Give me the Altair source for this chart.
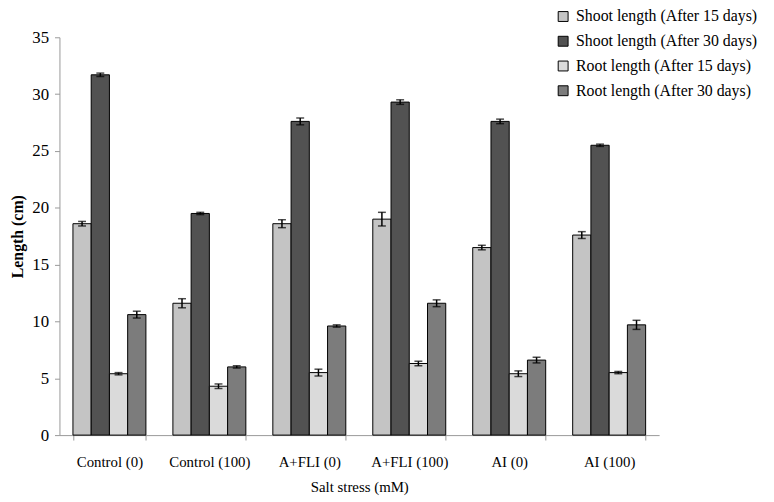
import altair as alt
import pandas as pd

groups = ["Control (0)", "Control (100)", "A+FLI (0)", "A+FLI (100)", "AI (0)", "AI (100)"]
series = ["Shoot length (After 15 days)", "Shoot length (After 30 days)",
          "Root length (After 15 days)", "Root length (After 30 days)"]
shoot15 = [18.6, 11.6, 18.6, 19.0, 16.5, 17.6]
shoot15_err = [0.2, 0.4, 0.35, 0.6, 0.2, 0.3]
shoot30 = [31.7, 19.5, 27.6, 29.3, 27.6, 25.5]
shoot30_err = [0.15, 0.1, 0.3, 0.2, 0.2, 0.1]
root15 = [5.4, 4.3, 5.5, 6.3, 5.4, 5.5]
root15_err = [0.1, 0.2, 0.3, 0.2, 0.25, 0.1]
root30 = [10.6, 6.0, 9.6, 11.6, 6.6, 9.7]
root30_err = [0.3, 0.1, 0.1, 0.3, 0.25, 0.4]
colors = ["#c4c4c4", "#525252", "#dadada", "#7c7c7c"]

rows = []
for s, vals, errs in zip(series, [shoot15, shoot30, root15, root30],
                         [shoot15_err, shoot30_err, root15_err, root30_err]):
    for g, v, e in zip(groups, vals, errs):
        rows.append({"group": g, "series": s, "value": v, "lo": v - e, "hi": v + e})
df = pd.DataFrame(rows)

FONT = "Times New Roman, Liberation Serif, serif"

x = alt.X("group:N", sort=groups,
          scale=alt.Scale(paddingInner=0.27, paddingOuter=0.135),
          axis=alt.Axis(title="Salt stress (mM)", labelAngle=0, tickBand="extent",
                        labelFont=FONT, labelFontSize=15, labelColor="black",
                        titleFont=FONT, titleFontSize=15, titleFontWeight="normal",
                        titleColor="black", domainColor="#999999", tickColor="#999999",
                        tickSize=5, labelPadding=15, titlePadding=10))
xo = alt.XOffset("series:N", sort=series, scale=alt.Scale(paddingInner=0, paddingOuter=0))

bars = alt.Chart(df).mark_bar(stroke="black", strokeWidth=1).encode(
    x=x, xOffset=xo,
    y=alt.Y("value:Q", scale=alt.Scale(domain=[0, 35], nice=False),
            axis=alt.Axis(title="Length (cm)", values=list(range(0, 36, 5)), grid=False,
                          labelFont=FONT, labelFontSize=17, labelColor="black",
                          titleFont=FONT, titleFontSize=16, titleFontWeight="bold",
                          titleColor="black", domainColor="#999999", tickColor="#999999",
                          tickSize=5, labelPadding=6, titlePadding=6)),
    color=alt.Color("series:N", sort=series,
                    scale=alt.Scale(domain=series, range=colors),
                    legend=alt.Legend(title=None, orient="none", legendX=501, legendY=-29,
                                      symbolType="square", symbolSize=100,
                                      symbolStrokeColor="black", symbolStrokeWidth=1,
                                      labelFont=FONT, labelFontSize=16, labelColor="black",
                                      labelOffset=5,
                                      rowPadding=9, labelLimit=300)),
)

rule = alt.Chart(df).mark_rule(color="black", strokeWidth=1.5).encode(
    x=x, xOffset=xo, y="lo:Q", y2="hi:Q")
cap_lo = alt.Chart(df).mark_tick(color="black", thickness=1.5, size=8).encode(
    x=x, xOffset=xo, y="lo:Q")
cap_hi = alt.Chart(df).mark_tick(color="black", thickness=1.5, size=8).encode(
    x=x, xOffset=xo, y="hi:Q")

chart = alt.layer(bars, rule, cap_lo, cap_hi).properties(
    width=606, height=402,
    autosize=alt.AutoSizeParams(type="none"),
    padding={"left": 52, "top": 27, "right": 108, "bottom": 65},
).configure_view(stroke=None)

chart.save("out.html", embed_options={"renderer": "svg", "actions": False})
